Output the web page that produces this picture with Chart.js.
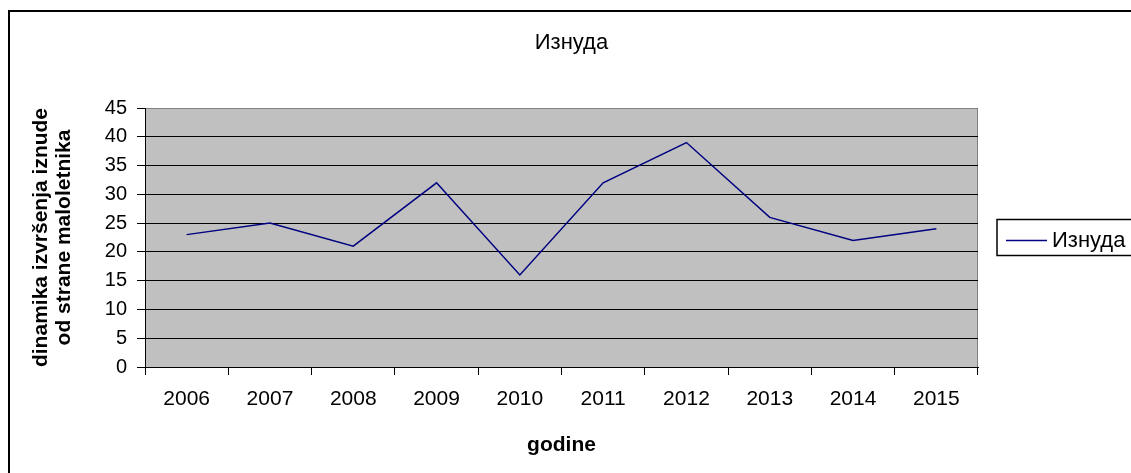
<!DOCTYPE html>
<html>
<head>
<meta charset="utf-8">
<script src="https://cdn.jsdelivr.net/npm/chart.js@4/dist/chart.umd.min.js"></script>
<style>
  body { margin: 0; background: #fff; }
</style>
</head>
<body>
<canvas id="chart" width="1131" height="473"></canvas>
<script>
const chartTitle = "Изнуда";
const seriesName = "Изнуда";
const years = ["2006", "2007", "2008", "2009", "2010", "2011", "2012", "2013", "2014", "2015"];
const cases = [23, 25, 21, 32, 16, 32, 39, 26, 22, 24];
const yTitle = ["dinamika izvršenja iznude", "od strane maloletnika"];
const xTitle = "godine";

const FONT = "'Liberation Sans', Arial, sans-serif";
Chart.defaults.font.family = FONT;
Chart.defaults.color = "#000";

// grey plot area, frame, centred title and the outer chart border
const plotBack = {
  id: "plotBack",
  beforeDraw(chart) {
    const { ctx, chartArea: a } = chart;
    ctx.save();
    ctx.fillStyle = "#c0c0c0";
    ctx.fillRect(a.left, a.top, a.right - a.left, a.bottom - a.top);
    ctx.strokeStyle = "#808080";
    ctx.lineWidth = 1;
    ctx.strokeRect(a.left + 0.5, a.top + 0.5, a.right - a.left - 1, a.bottom - a.top);
    ctx.restore();
  },
  afterDraw(chart) {
    const ctx = chart.ctx;
    ctx.save();
    ctx.strokeStyle = "#000";
    ctx.lineWidth = 2;
    ctx.strokeRect(9, 11, 1300, 700);
    ctx.fillStyle = "#000";
    ctx.font = "22px " + FONT;
    ctx.textAlign = "center";
    ctx.textBaseline = "middle";
    ctx.fillText(chartTitle, chart.width / 2 + 6, 43);
    ctx.restore();
  }
};

// excel-like legend box on the right
const boxLegend = {
  id: "boxLegend",
  afterDraw(chart) {
    const { ctx, chartArea: a } = chart;
    const ds = chart.data.datasets[0];
    const cy = (a.top + a.bottom) / 2;
    const left = a.right + 19;
    ctx.save();
    ctx.fillStyle = "#fff";
    ctx.fillRect(left, cy - 18, 200, 36);
    ctx.strokeStyle = "#000";
    ctx.lineWidth = 1.5;
    ctx.strokeRect(left, cy - 18, 200, 36);
    ctx.strokeStyle = ds.borderColor;
    ctx.lineWidth = 1.5;
    ctx.beginPath();
    ctx.moveTo(left + 9, cy + 3);
    ctx.lineTo(left + 50, cy + 3);
    ctx.stroke();
    ctx.fillStyle = "#000";
    ctx.font = "22px " + FONT;
    ctx.textBaseline = "middle";
    ctx.fillText(ds.label, left + 55, cy + 3);
    ctx.restore();
  }
};

new Chart(document.getElementById("chart"), {
  type: "line",
  data: {
    labels: years,
    datasets: [{
      label: seriesName,
      data: cases,
      borderColor: "#000080",
      borderWidth: 1.5,
      pointRadius: 0,
      tension: 0,
      fill: false
    }]
  },
  options: {
    responsive: false,
    animation: false,
    layout: { padding: { left: 10, right: 153, top: 108, bottom: 0 } },
    plugins: {
      legend: { display: false },
      tooltip: { enabled: false },
      title: { display: false }
    },
    scales: {
      x: {
        offset: true,
        grid: {
          offset: true,
          drawOnChartArea: false,
          tickLength: 8,
          color: "#000",
          tickColor: "#000"
        },
        border: { display: true, color: "#000", width: 1 },
        ticks: { font: { size: 21 }, padding: 12, maxRotation: 0 },
        title: {
          display: true,
          text: xTitle,
          font: { size: 21, weight: "bold" },
          padding: { top: 0, bottom: 15 }
        },
        afterFit(scale) { scale.height = 106; }
      },
      y: {
        min: 0,
        max: 45,
        ticks: { stepSize: 5, font: { size: 20 }, padding: 10 },
        grid: {
          color: (c) => (c.tick && c.tick.value === 45 ? "rgba(0,0,0,0)" : "#000"),
          tickColor: "#000",
          tickLength: 8,
          lineWidth: 1
        },
        border: { display: true, color: "#000", width: 1 },
        title: {
          display: true,
          text: yTitle,
          font: { size: 21, weight: "bold", lineHeight: "23px" },
          padding: { top: 20, bottom: 0 }
        },
        afterFit(scale) { scale.width = 135; }
      }
    }
  },
  plugins: [plotBack, boxLegend]
});
</script>
</body>
</html>
